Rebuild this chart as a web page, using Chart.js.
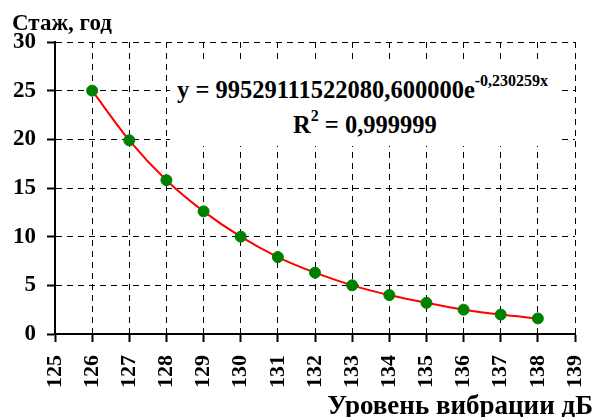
<!DOCTYPE html>
<html>
<head>
<meta charset="utf-8">
<style>
    html, body { margin: 0; padding: 0; background: #fff; }
    #wrap { position: relative; width: 595px; height: 417px; overflow: hidden; }
    .lbl {
        position: absolute;
        font-family: 'Liberation Serif', 'Times New Roman', serif;
        font-weight: bold;
        color: #000;
        white-space: nowrap;
    }
    #eq-box { position: absolute; left: 170px; top: 64px; width: 388px; height: 82px; background: #fff; }
    .sup { font-size: 16px; position: relative; top: -12px; vertical-align: baseline; line-height: 0; }
</style>
</head>
<body>
<div id="wrap">
    <canvas id="vib-chart" width="595" height="417"></canvas>
    <div id="eq-box">
        <div class="lbl" style="left: 7px; top: 13.5px; font-size: 24.5px; line-height: 24.5px;">y = 99529111522080,600000e<span class="sup">-0,230259x</span></div>
        <div class="lbl" style="left: 123px; top: 48.5px; font-size: 24.5px; line-height: 24.5px;">R<span class="sup">2</span> = 0,999999</div>
    </div>
    <div class="lbl" style="left: 12px; top: 10.5px; font-size: 23px; line-height: 23px;">Стаж, год</div>
    <div class="lbl" style="right: 2px; top: 391.5px; font-size: 27px; line-height: 27px;">Уровень вибрации дБ</div>
</div>

<script src="https://cdn.jsdelivr.net/npm/chart.js"></script>

<script>
    // vibration level (dB) vs. allowed work experience (years)
    const levels = [126, 127, 128, 129, 130, 131, 132, 133, 134, 135, 136, 137, 138];
    const years = [25, 19.9, 15.8, 12.6, 10, 7.9, 6.3, 5, 4, 3.2, 2.5, 2, 1.6];

    const xTicks = [125, 126, 127, 128, 129, 130, 131, 132, 133, 134, 135, 136, 137, 138, 139];
    const yTicks = [0, 5, 10, 15, 20, 25, 30];

    const points = levels.map((x, i) => ({ x, y: years[i] }));

    const serif = "'Liberation Serif', 'Times New Roman', serif";

    const gridOpts = {
        color: '#000',
        lineWidth: 1,
        tickLength: 8,
        tickWidth: 2,
        tickColor: '#000',
        tickBorderDash: [],
    };

    const ctx = document.getElementById('vib-chart');

    new Chart(ctx, {
        type: 'scatter',
        data: {
            datasets: [
                {
                    type: 'scatter',
                    data: points,
                    backgroundColor: '#008000',
                    borderColor: '#008000',
                    pointRadius: 5.5,
                    order: 0,
                },
                {
                    type: 'line',
                    data: points,
                    borderColor: '#ff0000',
                    borderWidth: 2,
                    pointRadius: 0,
                    fill: false,
                    cubicInterpolationMode: 'monotone',
                    order: 1,
                },
            ]
        },
        options: {
            responsive: false,
            animation: false,
            events: [],
            layout: { padding: { top: 42, right: 20, left: 0, bottom: 0 } },
            plugins: {
                legend: { display: false },
                tooltip: { enabled: false },
            },
            scales: {
                x: {
                    type: 'linear',
                    min: xTicks[0],
                    max: xTicks[xTicks.length - 1],
                    afterBuildTicks: (scale) => { scale.ticks = xTicks.map(v => ({ value: v })); },
                    afterFit: (scale) => {
                        scale.height = 83;
                        scale.paddingLeft = 0;
                        scale.paddingRight = 0;
                    },
                    ticks: {
                        color: '#000',
                        font: { family: serif, weight: 'bold', size: 22 },
                        padding: 13,
                        minRotation: 90,
                        maxRotation: 90,
                        autoSkip: false,
                    },
                    grid: gridOpts,
                    border: { color: '#000', width: 2, dash: [6, 5] },
                },
                y: {
                    min: yTicks[0],
                    max: yTicks[yTicks.length - 1],
                    afterBuildTicks: (scale) => { scale.ticks = yTicks.map(v => ({ value: v })); },
                    afterFit: (scale) => {
                        scale.width = 55;
                        scale.paddingTop = 0;
                        scale.paddingBottom = 0;
                    },
                    ticks: {
                        color: '#000',
                        font: { family: serif, weight: 'bold', size: 23 },
                        padding: 11,
                    },
                    grid: gridOpts,
                    border: { color: '#000', width: 2, dash: [6, 5] },
                }
            }
        }
    });
</script>
</body>
</html>
